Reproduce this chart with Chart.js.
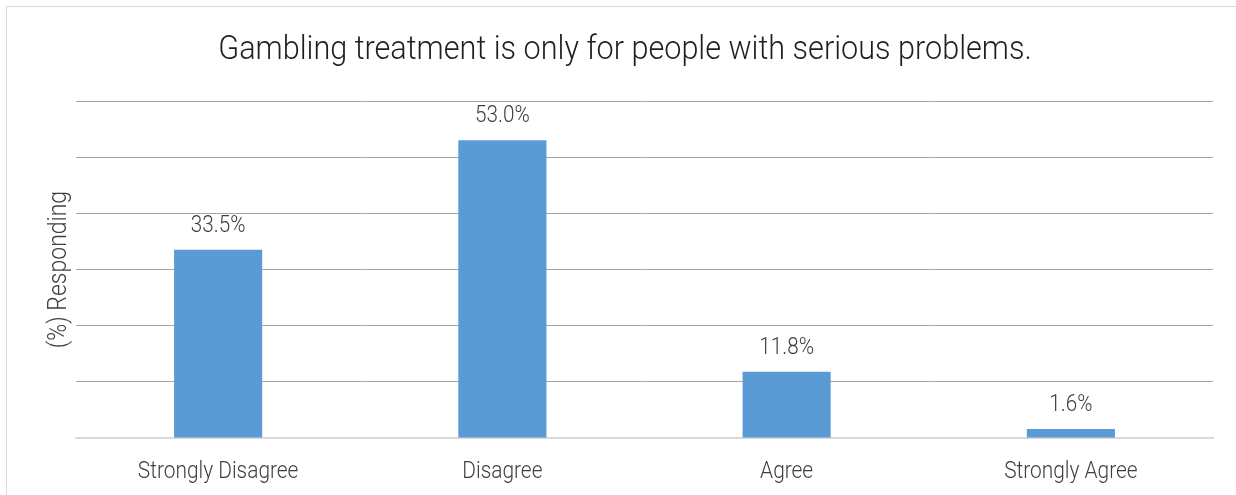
<!DOCTYPE html>
<html>
<head>
<meta charset="utf-8">
<script src="https://cdn.jsdelivr.net/npm/chart.js@4.4.0/dist/chart.umd.min.js"></script>
<style>
  html, body { margin: 0; padding: 0; background: #fff; }
  .wrap { position: relative; width: 1236px; height: 495px; overflow: hidden; }
  .frame { position: absolute; left: 6px; top: 6px; width: 1300px; height: 600px; border: 1px solid #d9d9d9; box-sizing: border-box; }
  canvas { position: absolute; left: 0; top: 0; }
</style>
</head>
<body>
<div class="wrap">
  <div class="frame"></div>
  <canvas id="chart" width="1236" height="495"></canvas>
</div>
<script>
const categories = ['Strongly Disagree', 'Disagree', 'Agree', 'Strongly Agree'];
const responding = [33.5, 53.0, 11.8, 1.6];
const yTicks = [0, 10, 20, 30, 40, 50, 60];
const chartTitle = 'Gambling treatment is only for people with serious problems.';
const yTitle = '(%) Responding';

const FONT = 'Roboto, sans-serif';

// the original uses a condensed light face, so squeeze Roboto Light horizontally
function condensedText(ctx, text, x, y, size, sx, color, rot) {
  ctx.save();
  ctx.translate(x, y);
  if (rot) ctx.rotate(rot);
  ctx.scale(sx, 1);
  ctx.font = '300 ' + size + 'px ' + FONT;
  ctx.fillStyle = color;
  ctx.textAlign = 'center';
  ctx.textBaseline = 'alphabetic';
  ctx.fillText(text, 0, 0);
  ctx.restore();
}

const textLayer = {
  id: 'textLayer',
  afterDatasetsDraw(chart) {
    const ctx = chart.ctx;
    const xs = chart.scales.x;
    const ys = chart.scales.y;
    const area = chart.chartArea;

    condensedText(ctx, chartTitle, 625, 59, 34, 0.9, '#1f1f1f');

    condensedText(ctx, yTitle, 66, (area.top + area.bottom) / 2, 25, 0.92, '#404040', -Math.PI / 2);

    categories.forEach((c, i) => {
      condensedText(ctx, c, xs.getPixelForValue(i), 478, 24, 0.87, '#404040');
    });

    chart.getDatasetMeta(0).data.forEach((bar, i) => {
      condensedText(ctx, responding[i].toFixed(1) + '%', bar.x, bar.y - 18, 24, 0.86, '#404040');
    });
  }
};

new Chart(document.getElementById('chart').getContext('2d'), {
  type: 'bar',
  data: {
    labels: categories,
    datasets: [{
      label: yTitle,
      data: responding,
      backgroundColor: '#5b9bd5',
      borderWidth: 0,
      categoryPercentage: 1,
      barPercentage: 0.31
    }]
  },
  options: {
    responsive: false,
    animation: false,
    layout: { padding: { left: 0, right: 23, top: 101, bottom: 0 } },
    plugins: {
      legend: { display: false },
      tooltip: { enabled: false },
      title: { display: false }
    },
    scales: {
      x: {
        grid: { display: false },
        border: { display: true, color: '#d9d9d9', width: 2 },
        ticks: { display: false },
        afterFit(scale) { scale.height = 57; }
      },
      y: {
        min: 0,
        max: 60,
        afterBuildTicks(scale) { scale.ticks = yTicks.map(v => ({ value: v })); },
        ticks: { display: false },
        grid: { color: ctx => ctx.tick.value === 0 ? 'rgba(0,0,0,0)' : '#a6a6a6', lineWidth: 1, drawTicks: false },
        border: { display: false },
        afterFit(scale) { scale.width = 76; }
      }
    }
  },
  plugins: [textLayer]
});
</script>
</body>
</html>
